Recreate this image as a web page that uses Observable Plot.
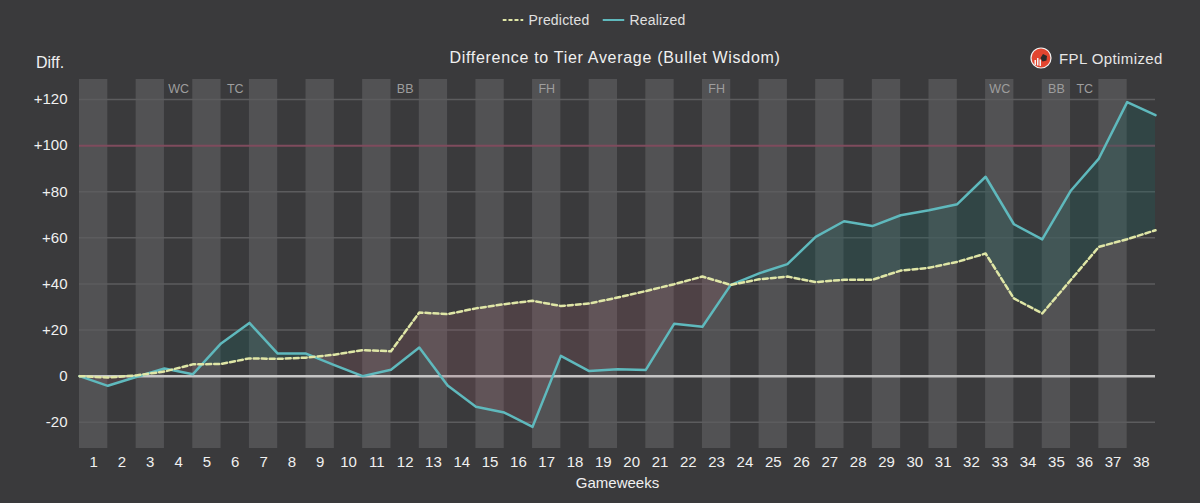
<!DOCTYPE html>
<html><head><meta charset="utf-8">
<script src="https://cdn.jsdelivr.net/npm/d3@7"></script>
<script src="https://cdn.jsdelivr.net/npm/@observablehq/plot@0.6"></script>
<style>
body{margin:0;background:#3a3a3c;font-family:"Liberation Sans",Arial,sans-serif;}
#wrap{position:relative;width:1200px;height:503px;overflow:hidden;background:#3a3a3c;}
#head{position:relative;width:1200px;height:75px;color:#e8e8e8;}
#head .abs{position:absolute;white-space:nowrap;}
#legend{left:594px;top:20px;transform:translate(-50%,-50%);font-size:14px;display:flex;align-items:center;gap:13px;color:#e0e0e0;letter-spacing:0.2px;}
#legend .item{display:flex;align-items:center;gap:5px;}
#title{left:615px;top:58px;transform:translate(-50%,-50%);font-size:16px;letter-spacing:0.7px;color:#f0f0f0;}
#ylab{left:50px;top:63px;transform:translate(-50%,-50%);font-size:16px;color:#f0f0f0;}
#brand{left:1030px;top:58px;transform:translateY(-50%);font-size:15px;letter-spacing:0.4px;display:flex;align-items:center;gap:7px;color:#e6e6e6;}
</style></head>
<body>
<div id="wrap">
  <div id="head">
    <div id="legend" class="abs"></div>
    <div id="title" class="abs"></div>
    <div id="ylab" class="abs"></div>
    <div id="brand" class="abs">
      <svg width="22" height="22" viewBox="0 0 22 22">
        <circle cx="11" cy="11" r="10" fill="#e2452f" stroke="#f2f2f2" stroke-width="1.2"/>
        <polygon points="13,7 17,9 16.5,13.5 12.5,14.5 10.5,11" fill="#2b2b2b"/>
        <rect x="4.5" y="13" width="1.5" height="5" fill="#f2f2f2"/>
        <rect x="7" y="11" width="1.5" height="7.5" fill="#f2f2f2"/>
        <rect x="9.5" y="12.5" width="1.5" height="6.5" fill="#f2f2f2"/>
      </svg>
      <span id="brandText"></span>
    </div>
  </div>
  <div id="chart"></div>
</div>
<script>
// ---- data ----
const gameweeks = d3.range(0, 39); // cumulative state after each gameweek (0 = start)
const predicted = [0, -0.6, 0.3, 2.0, 5.1, 5.3, 7.7, 7.5, 8.0, 9.3,
  11.3, 10.8, 27.6, 26.9, 29.4, 31.2, 32.7, 30.4, 31.5, 34.1,
  36.9, 39.9, 43.2, 39.6, 42.0, 43.2, 40.8, 41.8, 41.8, 45.8,
  47.0, 49.6, 53.2, 33.7, 27.2, 41.6, 56.1, 59.4, 63.3];
const realized = [0, -4.2, -0.4, 3.3, 0.8, 14.2, 23.1, 9.8, 9.8, 4.8,
  0, 2.8, 12.4, -4.1, -13.3, -15.8, -22, 8.8, 2.2, 3.0,
  2.7, 22.7, 21.4, 39.6, 44.6, 48.6, 60.4, 67.2, 65.1, 69.8,
  72.0, 74.6, 86.5, 65.9, 59.3, 80.3, 94.4, 118.9, 113.2];
const weekLabels = d3.range(1, 39);
const chipWeeks = [4, 6, 12, 17, 23, 33, 35, 36];
const chipNames = ["WC", "TC", "BB", "FH", "FH", "WC", "BB", "TC"];
const yTicks = [-20, 0, 20, 40, 60, 80, 100, 120];
const yDomain = [-31.4, 128.7];
const seriesNames = ["Predicted", "Realized"];
const titleText = "Difference to Tier Average (Bullet Wisdom)";
const yLabel = "Diff.";
const xLabel = "Gameweeks";
const brandName = "FPL Optimized";

const colPred = "#dfe6a6", colReal = "#5fb9bd";

// header texts
document.getElementById("title").textContent = titleText;
document.getElementById("ylab").textContent = yLabel;
document.getElementById("brandText").textContent = brandName;
const leg = document.getElementById("legend");
leg.innerHTML =
  `<span class="item"><svg width="21" height="4"><line x1="0" y1="2" x2="21" y2="2" stroke="${colPred}" stroke-width="2" stroke-dasharray="4,2"/></svg>${seriesNames[0]}</span>` +
  `<span class="item"><svg width="22" height="4"><line x1="0" y1="2" x2="22" y2="2" stroke="${colReal}" stroke-width="2"/></svg>${seriesNames[1]}</span>`;

// rows
const rows = gameweeks.map((g, i) => ({x: g, p: predicted[i], r: realized[i]}));
// insert crossing points so fills split exactly where lines cross
const pts = [];
for (let i = 0; i < rows.length; i++) {
  pts.push(rows[i]);
  if (i < rows.length - 1) {
    const d0 = rows[i].r - rows[i].p, d1 = rows[i + 1].r - rows[i + 1].p;
    if (d0 * d1 < 0) {
      const t = d0 / (d0 - d1);
      const x = rows[i].x + t * (rows[i + 1].x - rows[i].x);
      const v = rows[i].p + t * (rows[i + 1].p - rows[i].p);
      pts.push({x, p: v, r: v});
    }
  }
}
const bands = weekLabels.filter(k => k % 2 === 1);
const chips = chipWeeks.map((w, i) => ({w, c: chipNames[i]}));
const grid = yTicks.filter(v => v !== 0 && v !== 100);

const chart = Plot.plot({
  width: 1200, height: 428,
  marginTop: 4, marginBottom: 55, marginLeft: 79, marginRight: 45,
  style: {background: "transparent", color: "#f0f0f0", fontFamily: "'Liberation Sans', Arial, sans-serif", fontSize: "15px", overflow: "visible"},
  x: {domain: [0, 38]},
  y: {domain: yDomain},
  marks: [
    Plot.rect(bands, {x1: d => d - 1, x2: d => d, y1: () => yDomain[0], y2: () => yDomain[1], fill: "#525254"}),
    Plot.ruleY(grid, {stroke: "#5c5c5e", strokeWidth: 1.5}),
    Plot.ruleY([100], {stroke: "#7f4b5d", strokeWidth: 2}),
    Plot.ruleY([0], {stroke: "#c6c6c6", strokeWidth: 2.5}),
    Plot.areaY(pts, {x: "x", y1: "p", y2: d => Math.max(d.r, d.p), fill: "rgb(30,95,92)", fillOpacity: 0.3}),
    Plot.areaY(pts, {x: "x", y1: "p", y2: d => Math.min(d.r, d.p), fill: "rgb(150,90,105)", fillOpacity: 0.22}),
    Plot.line(rows, {x: "x", y: "r", stroke: colReal, strokeWidth: 2.5}),
    Plot.line(rows, {x: "x", y: "p", stroke: colPred, strokeWidth: 2.5, strokeDasharray: "5,3"}),
    Plot.text(chips, {x: d => d.w - 0.5, frameAnchor: "top", lineAnchor: "middle", dy: 9, text: "c", fill: "#9e9e9e", fontSize: 12.5}),
    Plot.axisY(yTicks, {tickSize: 0, tickPadding: 12, tickFormat: d => d > 0 ? "+" + d : String(d), fontSize: 15, label: null}),
    Plot.axisX(weekLabels.map(k => k - 0.5), {tickSize: 0, tickPadding: 8, tickFormat: d => String(d + 0.5), fontSize: 15, label: null}),
    Plot.text([xLabel], {frameAnchor: "bottom", lineAnchor: "middle", dy: 35, fontSize: 15, fill: "#f0f0f0"})
  ]
});
document.getElementById("chart").appendChild(chart);
</script>
</body></html>
